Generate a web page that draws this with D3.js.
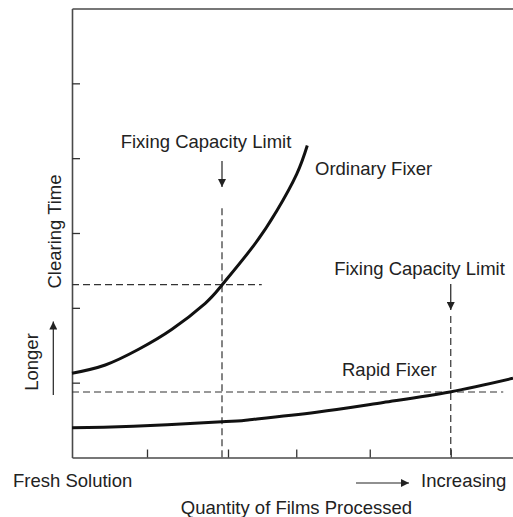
<!DOCTYPE html>
<html>
<head>
<meta charset="utf-8">
<script src="https://cdn.jsdelivr.net/npm/d3@7"></script>
<style>
  body { margin: 0; background: #fff; }
  text { font-family: "Liberation Sans", Arial, Helvetica, sans-serif; font-size: 18.5px; fill: #222; }
</style>
</head>
<body>
<svg width="513" height="517"></svg>
<script>
// curves (x = films processed, y = clearing time)
const ordinaryX = [0, 0.444, 0.889, 1.333, 1.777, 2.0, 2.417, 2.729, 2.996, 3.137];
const ordinaryY = [1.125, 1.236, 1.446, 1.713, 2.061, 2.305, 2.824, 3.293, 3.787, 4.169];
const rapidX = [0, 0.818, 2.0, 2.37, 3.26, 4.15, 5.04, 5.88];
const rapidY = [0.398, 0.418, 0.477, 0.505, 0.605, 0.735, 0.876, 1.058];

const yTicks = [1, 2, 3, 4, 5];
const xTicks = [1, 2.08, 2.99, 3.97, 5.05];

// capacity limits: x of limit, y where dashed reading meets curve, end of horizontal guide, top of vertical guide
const limitX = [2.0, 5.05];
const limitY = [2.31, 0.875];
const guideEndX = [2.53, 5.75];
const guideTopY = [3.33, 1.89];

const svg = d3.select("svg");

const x = d3.scaleLinear().domain([0, 5.88]).range([72, 513]);
const y = d3.scaleLinear().domain([0, 6]).range([457.5, 8.5]);

svg.append("defs").append("marker")
    .attr("id", "head")
    .attr("viewBox", "0 0 10 10")
    .attr("refX", 10).attr("refY", 5)
    .attr("markerWidth", 13).attr("markerHeight", 8)
    .attr("markerUnits", "userSpaceOnUse")
    .attr("orient", "auto")
  .append("path")
    .attr("d", "M0,0L10,5L0,10Z")
    .attr("fill", "#222");

//axes
const axisStyle = g => {
  g.select(".domain").attr("stroke", "#4a4a4a").attr("stroke-width", 1.6);
  g.selectAll(".tick line").attr("stroke", "#333").attr("stroke-width", 1.3);
  g.selectAll(".tick text").remove();
};

svg.append("g")
    .attr("transform", `translate(${x(0)},0)`)
    .call(d3.axisLeft(y).tickValues(yTicks).tickSize(-8).tickSizeOuter(0).tickFormat(""))
    .call(axisStyle);

svg.append("g")
    .attr("transform", `translate(0,${y(0)})`)
    .call(d3.axisBottom(x).tickValues(xTicks).tickSize(-8).tickSizeOuter(0).tickFormat(""))
    .call(axisStyle);

svg.append("g")
    .attr("transform", `translate(0,${y(6)})`)
    .call(d3.axisTop(x).tickValues([]).tickSizeOuter(0))
    .call(axisStyle);

//dashed guides
const guides = svg.append("g")
    .attr("stroke", "#333")
    .attr("stroke-width", 1.2)
    .attr("stroke-dasharray", "7,4")
    .attr("fill", "none");

limitX.forEach((lx, i) => {
  guides.append("line")
      .attr("x1", x(0)).attr("x2", x(guideEndX[i]))
      .attr("y1", y(limitY[i])).attr("y2", y(limitY[i]));
  guides.append("line")
      .attr("x1", x(lx)).attr("x2", x(lx))
      .attr("y1", y(guideTopY[i])).attr("y2", y(0));
});

//curves
const line = d3.line()
    .x(d => x(d[0]))
    .y(d => y(d[1]))
    .curve(d3.curveNatural);

[[ordinaryX, ordinaryY], [rapidX, rapidY]].forEach(([xs, ys]) => {
  svg.append("path")
      .datum(xs.map((v, i) => [v, ys[i]]))
      .attr("d", line)
      .attr("fill", "none")
      .attr("stroke", "#111")
      .attr("stroke-width", 3);
});

//limit arrows and labels
const arrowTop = [161, 284];
const labelBase = [147.5, 275];
limitX.forEach((lx, i) => {
  svg.append("line")
      .attr("x1", x(lx)).attr("x2", x(lx))
      .attr("y1", arrowTop[i]).attr("y2", arrowTop[i] + 26)
      .attr("stroke", "#222").attr("stroke-width", 1.2)
      .attr("marker-end", "url(#head)");
  svg.append("text")
      .attr("x", [206, 419.5][i])
      .attr("y", labelBase[i])
      .attr("text-anchor", "middle")
      .text("Fixing Capacity Limit");
});

svg.append("text").attr("x", 315).attr("y", 175).text("Ordinary Fixer");
svg.append("text").attr("x", 342).attr("y", 376).text("Rapid Fixer");

//axis captions
svg.append("text")
    .attr("transform", "translate(61,231.5) rotate(-90)")
    .attr("text-anchor", "middle")
    .text("Clearing Time");
svg.append("text")
    .attr("transform", "translate(38,362) rotate(-90)")
    .attr("text-anchor", "middle")
    .text("Longer");
svg.append("line")
    .attr("x1", 53.3).attr("x2", 53.3)
    .attr("y1", 395).attr("y2", 321.5)
    .attr("stroke", "#222").attr("stroke-width", 1.2)
    .attr("marker-end", "url(#head)");

svg.append("text").attr("x", 13).attr("y", 486.5).text("Fresh Solution");
svg.append("text").attr("x", 421).attr("y", 486.5).text("Increasing");
svg.append("line")
    .attr("x1", 356).attr("x2", 409)
    .attr("y1", 483).attr("y2", 483)
    .attr("stroke", "#222").attr("stroke-width", 1.2)
    .attr("marker-end", "url(#head)");
svg.append("text")
    .attr("x", 296.5).attr("y", 513.5)
    .attr("text-anchor", "middle")
    .text("Quantity of Films Processed");
</script>
</body>
</html>
